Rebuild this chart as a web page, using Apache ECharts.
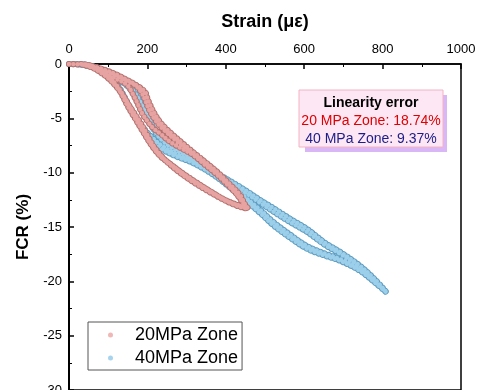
<!DOCTYPE html>
<html>
<head>
<meta charset="utf-8">
<script src="https://cdn.jsdelivr.net/npm/echarts@6/dist/echarts.min.js"></script>
<style>
 html,body{margin:0;padding:0;background:#fff;}
 #chart{width:481px;height:390px;}
</style>
</head>
<body>
<div id="chart"></div>
<script>
// 20 MPa zone: [strain, FCR]
var load20a = [[0,0],[20,-0.02],[41,-0.09],[60,-0.35],[79,-0.74],[98,-1.25],[117,-1.93],[133,-2.65],[148,-3.49],[165,-4.45],[181,-5.33],[198,-6.40],[214,-7.44],[232,-8.30],[250,-9.01],[282,-9.98],[316,-10.84],[350,-11.60],[385,-12.31],[415,-12.85],[444,-13.23],[457,-13.30]];
var unload20a = [[457,-13.30],[448,-12.85],[436,-12.04],[408,-10.98],[378,-9.93],[347,-9.00],[316,-8.09],[290,-7.30],[265,-6.52],[248,-5.95],[232,-5.33],[218,-4.55],[207,-3.77],[200,-3.15],[194,-2.57],[172,-1.95],[148,-1.47],[120,-0.95],[92,-0.55],[66,-0.25],[46,-0.09],[30,0]];
var load20b = [[30,0],[55,-0.15],[88,-0.80],[120,-1.90],[142,-3.10],[160,-4.30],[178,-5.40],[196,-6.55],[216,-7.70],[238,-8.60],[262,-9.30],[296,-10.25],[330,-11.05],[366,-11.85],[400,-12.55],[430,-13.00],[455,-13.25]];
var unload20b = [[455,-13.25],[436,-12.31],[408,-11.25],[378,-10.20],[346,-9.25],[316,-8.36],[286,-7.75],[258,-7.17],[236,-6.50],[214,-5.88],[200,-5.25],[189,-4.69],[180,-4.05],[173,-3.49],[162,-2.70],[148,-1.93],[120,-1.35],[87,-0.83],[60,-0.35],[35,-0.05]];
var load20c = [[35,-0.05],[65,-0.35],[100,-1.20],[128,-2.40],[150,-3.90],[170,-5.10],[190,-6.30],[210,-7.45],[232,-8.45],[258,-9.20],[290,-10.05],[325,-10.90],[360,-11.70],[395,-12.45],[428,-12.95],[452,-13.20]];
var unload20c = [[452,-13.20],[440,-12.60],[420,-11.60],[392,-10.55],[362,-9.55],[330,-8.65],[300,-7.85],[275,-7.10],[252,-6.40],[232,-5.70],[216,-4.95],[204,-4.20],[196,-3.50],[186,-2.70],[170,-2.00],[145,-1.50],[115,-1.05],[85,-0.60],[55,-0.20]];

// 40 MPa zone
var load40a = [[0,0],[33,-0.09],[66,-0.37],[99,-1.10],[125,-2.02],[143,-3.12],[158,-4.23],[173,-5.15],[189,-6.07],[207,-6.89],[232,-7.72],[270,-8.45],[316,-9.10],[372,-10.29],[436,-12.13],[487,-13.69],[520,-14.80],[564,-15.99],[607,-17.00],[653,-17.64],[691,-18.10],[742,-19.02],[781,-20.13],[811,-21.05]];
var unload40a = [[811,-21.05],[781,-19.85],[742,-18.56],[691,-17.28],[653,-16.45],[607,-15.17],[564,-14.24],[520,-13.23],[487,-12.50],[436,-11.30],[372,-9.93],[316,-8.55],[270,-7.72],[240,-6.98],[219,-6.07],[204,-4.96],[186,-3.77],[166,-2.57],[140,-1.65],[105,-0.83],[66,-0.28],[28,0]];
var load40b = [[20,0],[55,-0.25],[92,-0.85],[120,-1.85],[140,-3.00],[156,-4.10],[172,-5.00],[190,-5.90],[210,-6.70],[238,-7.55],[275,-8.30],[316,-8.95],[372,-10.15],[436,-11.90],[487,-13.40],[520,-14.50],[564,-15.70],[607,-16.75],[653,-17.45],[691,-17.95],[742,-18.90],[781,-20.05],[808,-20.95]];
var unload40b = [[808,-20.95],[781,-19.95],[742,-18.70],[691,-17.45],[653,-16.65],[607,-15.45],[564,-14.55],[520,-13.55],[487,-12.75],[436,-11.50],[372,-10.05],[316,-8.70],[270,-7.85],[240,-7.10],[219,-6.20],[203,-5.10],[185,-3.90],[165,-2.70],[140,-1.75],[105,-0.90],[66,-0.30],[30,-0.02]];

var xTicks = [0, 200, 400, 600, 800, 1000];
var zoneNames = ['20MPa Zone', '40MPa Zone'];

var zone20 = load20a.concat(unload20a, load20b, unload20b, load20c, unload20c);
var zone40 = load40a.concat(unload40a, load40b, unload40b);

var font = 'Arial, "Liberation Sans", sans-serif';
var myChart = echarts.init(document.getElementById('chart'));

// one zone = a soft band plus a chain of outlined circles (dotted strokes)
function zoneSeries(name, data, fill, edge, z){
  var base = {
    name: name, type: 'line', data: data, smooth: 0.35, z: z,
    showSymbol: false, silent: true,
    lineStyle: {color: fill, width: 5, opacity: 0.9}
  };
  var ring = {
    name: name, type: 'line', data: data, smooth: 0.35, z: z,
    showSymbol: false, silent: true,
    lineStyle: {color: edge, width: 6.2, type: [0.01, 4.3], cap: 'round'}
  };
  var core = {
    name: name, type: 'line', data: data, smooth: 0.35, z: z,
    showSymbol: false, silent: true,
    lineStyle: {color: fill, width: 4.4, type: [0.01, 4.3], cap: 'round'}
  };
  return [base, ring, core];
}

var option = {
  animation: false,
  grid: {left: 69, right: 20, top: 64, bottom: 0, outerBoundsMode: 'none',
    show: true, borderColor: '#000', borderWidth: 1.5},
  legend: {
    data: [
      {name: zoneNames[0], itemStyle: {color: '#f0b7b6', borderWidth: 0}},
      {name: zoneNames[1], itemStyle: {color: '#a8d3ee', borderWidth: 0}}
    ],
    orient: 'vertical',
    left: 88, top: 322,
    padding: [3, 4, 2, 20],
    borderColor: '#555', borderWidth: 1,
    icon: 'circle',
    itemWidth: 5, itemHeight: 5,
    itemGap: 3,
    textStyle: {fontSize: 18, fontFamily: font, color: '#000', lineHeight: 20, padding: [0, 0, 0, 17]}
  },
  xAxis: {
    type: 'value',
    position: 'top',
    min: 0, max: 1000, interval: 200,
    name: 'Strain (με)',
    nameLocation: 'middle',
    nameGap: 33,
    nameTextStyle: {fontSize: 18, fontWeight: 'bold', fontFamily: font, color: '#000'},
    axisLine: {lineStyle: {color: '#000', width: 1.5}},
    axisTick: {inside: true, length: 5, lineStyle: {color: '#000', width: 1.5}},
    minorTick: {show: true, splitNumber: 2, length: 3, lineStyle: {color: '#000'}},
    axisLabel: {fontSize: 13, fontFamily: font, color: '#000', margin: 8,
      formatter: function(v){ return xTicks.indexOf(v) >= 0 ? v : ''; }},
    splitLine: {show: false}
  },
  yAxis: {
    type: 'value',
    min: -30, max: 0, interval: 5,
    name: 'FCR (%)',
    nameLocation: 'middle',
    nameGap: 33,
    nameTextStyle: {fontSize: 17, fontWeight: 'bold', fontFamily: font, color: '#000'},
    axisLine: {lineStyle: {color: '#000', width: 2}},
    axisTick: {inside: true, length: 5, lineStyle: {color: '#000', width: 1.5}},
    minorTick: {show: true, splitNumber: 2, length: 3, lineStyle: {color: '#000'}},
    axisLabel: {fontSize: 13, fontFamily: font, color: '#000', margin: 7},
    splitLine: {show: false}
  },
  graphic: [
    {type: 'rect', shape: {x: 305, y: 95, width: 142, height: 57}, style: {fill: '#d9b6f6'}, z: 10},
    {type: 'rect', shape: {x: 299, y: 90, width: 144, height: 57}, style: {fill: '#fde7f4', stroke: '#f4b3c2', lineWidth: 1}, z: 11},
    {type: 'text', x: 371, y: 103, z: 12, style: {text: 'Linearity error', textAlign: 'center', textVerticalAlign: 'middle', font: 'bold 14px ' + font, fill: '#000'}},
    {type: 'text', x: 371, y: 121, z: 12, style: {text: '20 MPa Zone: 18.74%', textAlign: 'center', textVerticalAlign: 'middle', font: '14px ' + font, fill: '#e00000'}},
    {type: 'text', x: 371, y: 139, z: 12, style: {text: '40 MPa Zone: 9.37%', textAlign: 'center', textVerticalAlign: 'middle', font: '14px ' + font, fill: '#1c1c8a'}}
  ],
  series: zoneSeries(zoneNames[1], zone40, '#9ccfea', '#5f9cc0', 2)
    .concat(zoneSeries(zoneNames[0], zone20, '#e7a3a1', '#b07270', 3))
};
myChart.setOption(option);
</script>
</body>
</html>
